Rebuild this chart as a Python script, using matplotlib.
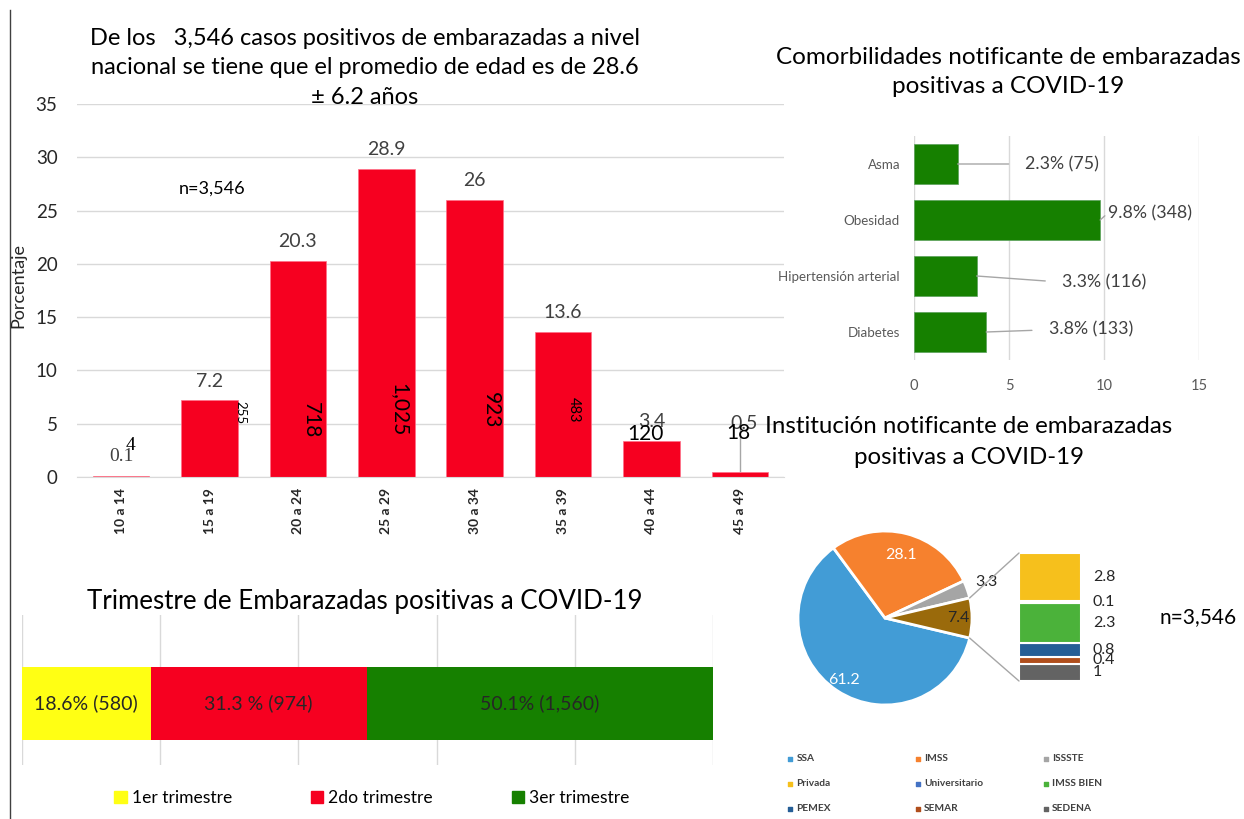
import numpy as np
import matplotlib.pyplot as plt
from matplotlib.patches import Patch, ConnectionPatch
from matplotlib.lines import Line2D

plt.rcParams['font.family'] = ['Lato', 'DejaVu Sans']

# casos por grupo de edad
grupos = ['10 a 14', '15 a 19', '20 a 24', '25 a 29', '30 a 34', '35 a 39', '40 a 44', '45 a 49']
porcentajes = [0.1, 7.2, 20.3, 28.9, 26, 13.6, 3.4, 0.5]
casos = [4, 255, 718, 1025, 923, 483, 120, 18]

# comorbilidades
comorb = ['Asma', 'Obesidad', 'Hipertensión arterial', 'Diabetes']
comorb_pct = [2.3, 9.8, 3.3, 3.8]
comorb_n = [75, 348, 116, 133]

# trimestre
trimestres = ['1er trimestre', '2do trimestre', '3er trimestre']
trim_pct = [18.6, 31.3, 50.1]
trim_n = [580, 974, 1560]

# institucion notificante
inst_pie = ['SSA', 'IMSS', 'ISSSTE', 'Otras']
inst_pie_pct = [61.2, 28.1, 3.3, 7.4]
inst_otras = ['Privada', 'Universitario', 'IMSS BIEN', 'PEMEX', 'SEMAR', 'SEDENA']
inst_otras_pct = [2.8, 0.1, 2.3, 0.8, 0.4, 1]

W, H = 1244, 819
fig = plt.figure(figsize=(W / 100, H / 100), dpi=100)


def px_axes(x0, y0, x1, y1):
    return fig.add_axes([x0 / W, 1 - y1 / H, (x1 - x0) / W, (y1 - y0) / H])


rojo = '#f60020'
verde = '#168000'
gris_txt = '#404040'

# ---- histograma de edad ----
ax = px_axes(77, 104, 784, 477)
x = np.arange(len(grupos))
ax.bar(x, porcentajes, width=0.64, color=rojo, edgecolor='#ff7088', linewidth=0.5, zorder=2)
ax.set_xlim(-0.5, len(grupos) - 0.5)
ax.set_ylim(0, 35)
ax.set_yticks(range(0, 36, 5))
ax.set_xticks(x)
ax.set_xticklabels(grupos, rotation=90, fontsize=10, fontweight='bold', color='#262626')
ax.tick_params(axis='y', labelsize=13.5, colors='#262626', length=0, pad=14)
ax.tick_params(axis='x', length=0, pad=8)
ax.grid(axis='y', color='#d9d9d9', linewidth=1, zorder=0)
for s in ['top', 'right', 'left']:
    ax.spines[s].set_visible(False)
ax.spines['bottom'].set_color('#d9d9d9')

pct_y = [p + 1.8 for p in porcentajes]
pct_y[-1] = 5.0
for i, p in enumerate(porcentajes):
    fam = ['Liberation Serif', 'DejaVu Serif'] if i == 0 else None
    ax.text(i + (0.05 if i == 7 else 0), pct_y[i], f'{p:g}', ha='center', va='center',
            fontsize=14, color=gris_txt, family=fam)

cnt_dx = [0.1, 0.35, 0.15, 0.15, 0.18, 0.12, -0.07, -0.02]
cnt_y = [3.0, 6.0, 5.35, 6.3, 6.3, 6.3, 4.0, 4.1]
cnt_rot = [0, -90, -90, -90, -90, -90, 0, 0]
cnt_size = [14, 9.5, 15, 15, 15, 10.5, 15, 15]
for i, n in enumerate(casos):
    fam = ['Liberation Serif', 'DejaVu Serif'] if i == 0 else None
    ax.text(i + cnt_dx[i], cnt_y[i], f'{n:,}', ha='center', va='center', rotation=cnt_rot[i],
            fontsize=cnt_size[i], color='black', family=fam, zorder=3)
ax.plot([7, 7], [porcentajes[7] + 0.05, 4.5], color='#a6a6a6', linewidth=1, zorder=2.5)
ax.text(1.03, 27.1, 'n=3,546', ha='center', va='center', fontsize=13, color='black')

fig.text(18 / W, 1 - 285 / H, 'Porcentaje', rotation=90, ha='center', va='center',
         fontsize=13, color='#262626')
fig.text(365 / W, 1 - 68 / H,
         'De los   3,546 casos positivos de embarazadas a nivel\n'
         'nacional se tiene que el promedio de edad es de 28.6\n± 6.2 años',
         ha='center', va='center', fontsize=17, linespacing=1.5, color='black')

# borde izquierdo
fig.add_artist(Line2D([10 / W, 10 / W], [0, 1 - 10 / H], color='#404040', linewidth=1))

# ---- trimestre ----
tax = px_axes(22, 615, 713, 765)
trim_col = ['#ffff14', rojo, verde]
seps = ['', ' ', '']
left = 0
handles = []
for t, p, n, c, sep in zip(trimestres, trim_pct, trim_n, trim_col, seps):
    tax.barh(0, p, left=left, height=0.73, color=c, zorder=2)
    tax.text(left + p / 2, 0, f'{p}{sep}% ({n:,})', ha='center', va='center',
             fontsize=14, color='#262626', zorder=3)
    left += p
    handles.append(Patch(color=c, label=t))
tax.set_xlim(0, 100)
tax.set_ylim(-0.62, 0.88)
tax.set_xticks(range(0, 101, 20))
tax.set_xticklabels([])
tax.set_yticks([])
tax.tick_params(length=0)
tax.grid(axis='x', color='#d9d9d9', linewidth=1, zorder=0)
for s in tax.spines.values():
    s.set_visible(False)
fig.text(365 / W, 1 - 601 / H, 'Trimestre de Embarazadas positivas a COVID-19',
         ha='center', va='center', fontsize=18.6, color='black')
fig.legend(handles=handles, loc='center', bbox_to_anchor=(372 / W, 1 - 798 / H), ncol=3,
           frameon=False, fontsize=12.6, handlelength=0.7, handleheight=0.7,
           handletextpad=0.3, columnspacing=4.5)

# ---- comorbilidades ----
cax = px_axes(914, 136, 1199, 360)
yc = np.arange(len(comorb))
cax.barh(yc, comorb_pct, height=0.7, color=verde, edgecolor='#5aa05a', linewidth=0.5, zorder=2)
cax.set_ylim(len(comorb) - 0.5, -0.5)
cax.set_xlim(0, 15)
cax.set_xticks([0, 5, 10, 15])
cax.set_yticks(yc)
cax.set_yticklabels(comorb, fontsize=9.6, color='#595959')
cax.tick_params(axis='x', labelsize=10.5, colors='#595959', length=0, pad=14)
cax.tick_params(axis='y', length=0, pad=10)
cax.grid(axis='x', color='#d9d9d9', linewidth=1, zorder=0)
for s in cax.spines.values():
    s.set_visible(False)
lab_x = [7.8, 12.4, 10.0, 9.3]
lab_dy = [0, -0.12, 0.11, -0.04]
for i, (p, n) in enumerate(zip(comorb_pct, comorb_n)):
    cax.annotate(f'{p}% ({n})', xy=(p, i), xytext=(lab_x[i], i + lab_dy[i]),
                 ha='center', va='center', fontsize=12.8, color=gris_txt,
                 arrowprops=dict(arrowstyle='-', color='#a6a6a6', linewidth=1,
                                 relpos=(0, 0.5), shrinkA=10, shrinkB=0))
fig.text(1008 / W, 1 - 72 / H, 'Comorbilidades notificante de embarazadas\npositivas a COVID-19',
         ha='center', va='center', fontsize=17.5, linespacing=1.42, color='black')

# ---- institucion: pastel + barra ----
fig.text(969 / W, 1 - 442 / H, 'Institución notificante de embarazadas\npositivas a COVID-19',
         ha='center', va='center', fontsize=17.3, linespacing=1.53, color='black')
pie_col = ['#429cd6', '#f6812e', '#a5a5a5', '#9a6a0b']
pax = px_axes(798, 531, 972, 705)
wedges, _ = pax.pie(inst_pie_pct, colors=pie_col, startangle=-inst_pie_pct[-1] * 3.6 / 2,
                    counterclock=False, wedgeprops=dict(edgecolor='white', linewidth=2))
pax.set_xlim(-1, 1)
pax.set_ylim(-1, 1)
pie_r = [0.86, 0.75, 1.24, 0.84]
pie_tc = ['white', 'white', '#262626', '#262626']
for w, p, r, c in zip(wedges, inst_pie_pct, pie_r, pie_tc):
    ang = np.deg2rad((w.theta1 + w.theta2) / 2)
    pax.text(r * np.cos(ang), r * np.sin(ang), f'{p:g}', ha='center', va='center',
             fontsize=11.5, color=c)

otras_col = ['#f6c01c', '#4472c4', '#4bb23a', '#255e96', '#b04e1c', '#636363']
bax = px_axes(1019, 553, 1081, 681)
bottom = 0
for v, c in zip(inst_otras_pct[::-1], otras_col[::-1]):
    bax.bar(0.5, v, width=1, bottom=bottom, color=c, edgecolor='white', linewidth=1.5)
    bax.text(1.19, bottom + v / 2, f'{v:g}', ha='left', va='center', fontsize=11.5, color='#262626')
    bottom += v
bax.set_xlim(0, 1)
bax.set_ylim(0, bottom)
bax.axis('off')

w = wedges[-1]
for th, yb in [(w.theta2, bottom), (w.theta1, 0)]:
    a = np.deg2rad(th)
    con = ConnectionPatch(xyA=(np.cos(a), np.sin(a)), coordsA=pax.transData,
                          xyB=(0, yb), coordsB=bax.transData, color='#a6a6a6', linewidth=1)
    fig.add_artist(con)

fig.text(1198 / W, 1 - 617 / H, 'n=3,546', ha='center', va='center', fontsize=15, color='black')

# leyenda de instituciones (por filas)
ley = ['SSA', 'IMSS', 'ISSSTE', 'Privada', 'Universitario', 'IMSS BIEN', 'PEMEX', 'SEMAR', 'SEDENA']
ley_col = ['#429cd6', '#f6812e', '#a5a5a5', '#f6c01c', '#4472c4', '#4bb23a', '#255e96', '#b04e1c', '#636363']
lax = px_axes(785, 746, 1245, 821)
for i, (nm, c) in enumerate(zip(ley, ley_col)):
    r, col = divmod(i, 3)
    lax.scatter(col + 0.04, r, marker='s', s=5, color=c)
    lax.text(col + 0.09, r, nm, ha='left', va='center', fontsize=7.3, fontweight='bold', color='#404040')
lax.set_xlim(0, 3.6)
lax.set_ylim(2.5, -0.5)
lax.axis('off')

fig.savefig('out.png', dpi=100)
